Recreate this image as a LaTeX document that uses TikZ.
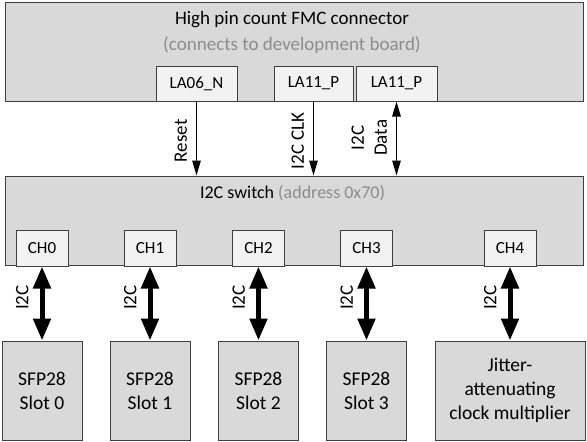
\documentclass[tikz,border=0pt]{standalone}
\usepackage{fontspec}
\setmainfont{Carlito}
\usepackage{tikz}
\usetikzlibrary{arrows.meta}
\definecolor{boxgray}{HTML}{D9D9D9}
\definecolor{pingray}{HTML}{F2F2F2}
\definecolor{edgegray}{HTML}{404040}
\definecolor{notegray}{HTML}{8C8C8C}
\tikzstyle{board} = [rectangle, draw=edgegray, fill=boxgray, line width=1pt, inner sep=0pt]
\tikzstyle{port} = [rectangle, draw=edgegray, fill=pingray, line width=1pt, inner sep=0pt, minimum height=35pt, font=\fontsize{17}{20}\selectfont]
\tikzstyle{slot} = [rectangle, draw=edgegray, fill=boxgray, line width=1pt, minimum height=99pt, text centered, align=center, font=\fontsize{19.5}{24}\selectfont]
\tikzstyle{title} = [inner sep=0pt, font=\fontsize{19}{24}\selectfont]
\tikzstyle{tag} = [rotate=90, anchor=south, inner sep=9pt, align=center, font=\fontsize{19}{23}\selectfont]
\tikzstyle{sig} = [line width=1.2pt, -{Triangle[length=15pt, width=8.5pt]}]
\tikzstyle{sigboth} = [line width=1.2pt, {Triangle[length=15pt, width=8.5pt]}-{Triangle[length=15pt, width=8.5pt]}]
\tikzstyle{bus} = [line width=5pt, {Triangle[length=22pt, width=17pt]}-{Triangle[length=22pt, width=17pt]}]

\begin{document}
\begin{tikzpicture}[x=1pt, y=-1pt]
\useasboundingbox (0,0) rectangle (587,442);

% FMC connector
\node (fmc) [board, minimum width=578pt, minimum height=99pt] at (294,51.5) {};
\node (fmctitle) [title] at (292,20) {High pin count FMC connector};
\node (fmcnote) [title, text=notegray] at (292,45) {(connects to development board)};
\node (la06) [port, minimum width=81pt] at (196.5,83.5) {LA06\_N};
\node (la11clk) [port, minimum width=79pt] at (313.5,83.5) {LA11\_P};
\node (la11data) [port, minimum width=81pt] at (396.5,83.5) {LA11\_P};

% I2C switch
\node (switch) [board, minimum width=578pt, minimum height=89pt] at (294,220.5) {};
\node (switchtitle) [title, font=\fontsize{18}{22}\selectfont] at (292.5,193) {I2C switch \textcolor{notegray}{(address 0x70)}};
\node (ch0) [port, minimum width=52pt, minimum height=36pt] at (42,248) {CH0};
\node (ch1) [port, minimum width=52pt, minimum height=36pt] at (150,248) {CH1};
\node (ch2) [port, minimum width=52pt, minimum height=36pt] at (258.5,248) {CH2};
\node (ch3) [port, minimum width=52pt, minimum height=36pt] at (366.5,248) {CH3};
\node (ch4) [port, minimum width=52pt, minimum height=36pt] at (510,248) {CH4};

% devices
\node (slot0) [slot, minimum width=80pt] at (42,390.5) {SFP28\\Slot 0};
\node (slot1) [slot, minimum width=80pt] at (150,390.5) {SFP28\\Slot 1};
\node (slot2) [slot, minimum width=80pt] at (258.5,390.5) {SFP28\\Slot 2};
\node (slot3) [slot, minimum width=80pt] at (366.5,390.5) {SFP28\\Slot 3};
\node (jitter) [slot, minimum width=150pt] at (510,390.5) {Jitter-\\attenuating\\clock multiplier};

\draw [sig] (la06) -- (la06 |- switch.north) node[tag, pos=0.53] {Reset};
\draw [sig] (la11clk) -- (la11clk |- switch.north) node[tag, pos=0.53] {I2C CLK};
\draw [sigboth] (la11data) -- (la11data |- switch.north) node[tag, pos=0.49] {I2C\\Data};

\draw [bus] (ch0) -- (slot0) node[tag, pos=0.42, inner sep=11pt] {I2C};
\draw [bus] (ch1) -- (slot1) node[tag, pos=0.42, inner sep=11pt] {I2C};
\draw [bus] (ch2) -- (slot2) node[tag, pos=0.42, inner sep=11pt] {I2C};
\draw [bus] (ch3) -- (slot3) node[tag, pos=0.42, inner sep=11pt] {I2C};
\draw [bus] (ch4) -- (jitter) node[tag, pos=0.42, inner sep=11pt] {I2C};

\end{tikzpicture}
\end{document}
